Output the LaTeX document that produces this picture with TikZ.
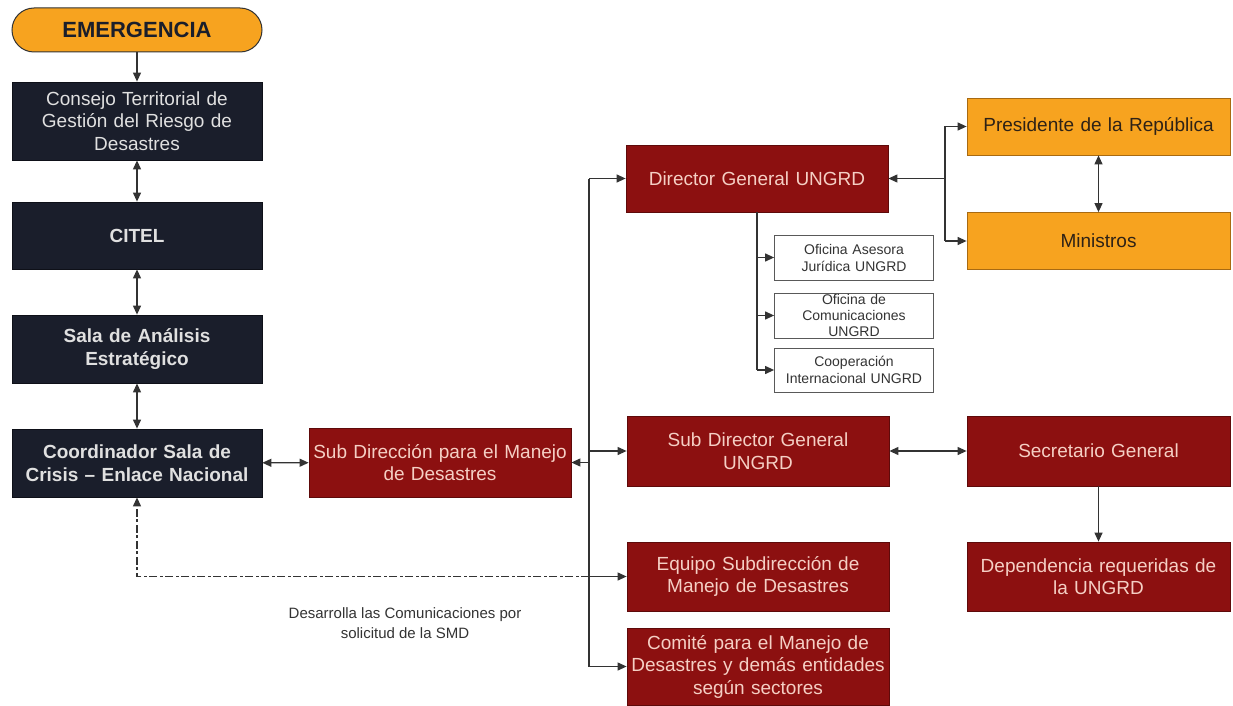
\documentclass[tikz,border=0pt]{standalone}
\usepackage{fontspec}
\setmainfont{Liberation Sans}
\usetikzlibrary{arrows.meta}
\definecolor{navy}{HTML}{1A1E2B}
\definecolor{navyline}{HTML}{0E1018}
\definecolor{dred}{HTML}{8C1010}
\definecolor{dredline}{HTML}{5E0A0A}
\definecolor{redtxt}{HTML}{F5CFC4}
\definecolor{orng}{HTML}{F7A31F}
\definecolor{orngline}{HTML}{A86A12}
\definecolor{orngtxt}{HTML}{2E2216}
\definecolor{lnc}{HTML}{333333}
\begin{document}
\begin{tikzpicture}[x=1pt,y=-1pt,
  base/.style={inner sep=0pt, align=center, line width=0.8pt},
  navybox/.style={base, fill=navy, draw=navyline, text=white!88!black, minimum width=250pt, font=\fontsize{19}{22.5}\selectfont, text width=240pt},
  redbox/.style={base, fill=dred, draw=dredline, text=redtxt, minimum width=262pt, font=\fontsize{19}{22.5}\selectfont, text width=258pt},
  orbox/.style={base, fill=orng, draw=orngline, text=orngtxt, minimum width=263pt, font=\fontsize{19}{22.5}\selectfont, text width=258pt},
  smallbox/.style={base, fill=white, draw=black!65, text=black!80, minimum width=159pt, font=\fontsize{14}{17}\selectfont, text width=155pt},
  ln/.style={draw=lnc, line width=1.2pt},
  arr/.style={ln, -{Triangle[length=9pt,width=8pt]}},
  darr/.style={ln, {Triangle[length=9pt,width=8pt]}-{Triangle[length=9pt,width=8pt]}}
]
\useasboundingbox (0,0) rectangle (1233,706);
\fill[white] (0,0) rectangle (1233,706);

% left column
\node[base, fill=orng, draw=black!80, line width=1pt, rounded corners=22pt, minimum width=250pt, minimum height=44pt, text=navy, font=\fontsize{22}{26}\selectfont\bfseries] (emer) at (137,30) {EMERGENCIA};
\node[navybox, minimum height=78pt] (consejo) at (137,121) {Consejo Territorial de\\Gestión del Riesgo de\\Desastres};
\node[navybox, minimum height=67pt, font=\fontsize{19}{22.5}\selectfont\bfseries] (citel) at (137,235.5) {CITEL};
\node[navybox, minimum height=68pt, font=\fontsize{19}{22.5}\selectfont\bfseries] (sala) at (137,349) {Sala de Análisis\\Estratégico};
\node[navybox, minimum height=68pt, font=\fontsize{19}{22.5}\selectfont\bfseries] (coord) at (137,463) {Coordinador Sala de\\Crisis – Enlace Nacional};

\node[redbox, minimum height=69pt] (subdir) at (440,462.5) {Sub Dirección para el Manejo\\de Desastres};

% middle column
\node[redbox, minimum height=67pt] (director) at (757,178.5) {Director General UNGRD};
\node[smallbox, minimum height=45pt] (ofi1) at (854,257.5) {Oficina Asesora\\Jurídica UNGRD};
\node[smallbox, minimum height=45pt, font=\fontsize{14}{16}\selectfont] (ofi2) at (854,315.5) {Oficina de\\Comunicaciones\\UNGRD};
\node[smallbox, minimum height=44pt] (ofi3) at (854,370) {Cooperación\\Internacional UNGRD};
\node[redbox, minimum height=70pt] (subgen) at (758,451) {Sub Director General\\UNGRD};
\node[redbox, minimum height=69pt] (equipo) at (758,576.5) {Equipo Subdirección de\\Manejo de Desastres};
\node[redbox, minimum height=77pt] (comite) at (758,666.5) {Comité para el Manejo de\\Desastres y demás entidades\\según sectores};

% right column
\node[orbox, minimum height=57pt] (pres) at (1098.5,126.5) {Presidente de la República};
\node[orbox, minimum height=57pt] (mini) at (1098.5,241) {Ministros};
\node[redbox, minimum height=70pt, minimum width=263pt] (secre) at (1098.5,451) {Secretario General};
\node[redbox, minimum height=69pt, minimum width=263pt] (depend) at (1098.5,576.5) {Dependencia requeridas de\\la UNGRD};

\node[inner sep=0pt, align=center, text=black!80, font=\fontsize{15}{20}\selectfont] (lbl) at (405,623) {Desarrolla las Comunicaciones por\\solicitud de la SMD};

% left column connectors
\draw[arr] (emer) -- (consejo);
\draw[darr] (consejo) -- (citel);
\draw[darr] (citel) -- (sala);
\draw[darr] (sala) -- (coord);
\draw[darr] (coord) -- (subdir);

% bus
\coordinate (bus) at (589,0);
\draw[ln] (bus |- director.west) -- (bus |- comite.west);
\draw[arr] (bus |- director.west) -- (director.west);
\draw[arr] (bus |- subdir.east) -- (subdir.east);
\draw[arr] (bus |- subgen.west) -- (subgen.west);
\draw[arr] (bus |- equipo.west) -- (equipo.west);
\draw[arr] (bus |- comite.west) -- (comite.west);
\draw[arr, dash pattern=on 8pt off 2.5pt on 3pt off 2.5pt] (bus |- equipo.west) -| (coord.south);

% director sub-offices
\draw[ln] (director.south) -- (director.south |- ofi3.west);
\draw[arr] (director.south |- ofi1.west) -- (ofi1.west);
\draw[arr] (director.south |- ofi2.west) -- (ofi2.west);
\draw[arr] (director.south |- ofi3.west) -- (ofi3.west);

% director to president / ministers
\coordinate (jn) at (945,178.5);
\draw[arr] (jn) -- (director.east);
\draw[ln] (jn |- pres.west) -- (jn |- mini.west);
\draw[arr] (jn |- pres.west) -- (pres.west);
\draw[arr] (jn |- mini.west) -- (mini.west);
\draw[darr] (pres) -- (mini);

% right side
\draw[darr] (subgen) -- (secre);
\draw[arr] (secre) -- (depend);
\end{tikzpicture}
\end{document}
